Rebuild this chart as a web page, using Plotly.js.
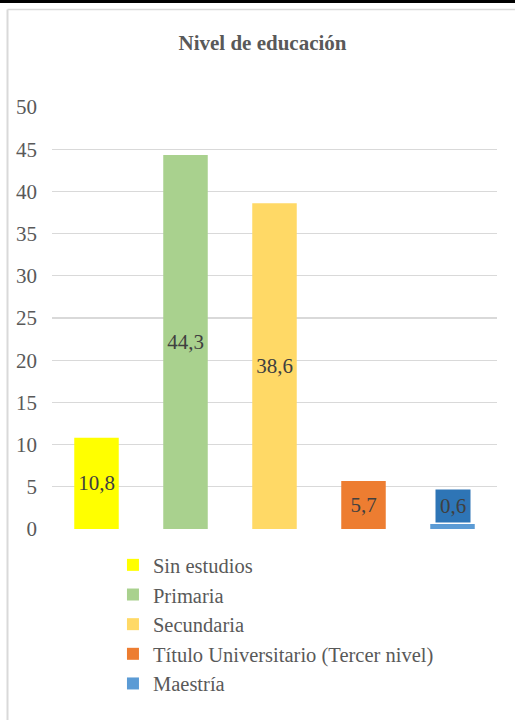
<!DOCTYPE html>
<html>
<head>
<meta charset="utf-8">
<script src="https://cdn.plot.ly/plotly-3.0.1.min.js"></script>
<style>html,body{margin:0;padding:0;background:#fff;}#chart{width:515px;height:720px;}</style>
</head>
<body>
<div id="chart"></div>
<script>
const categories = ["Sin estudios", "Primaria", "Secundaria", "Título Universitario (Tercer nivel)", "Maestría"];
const values = [10.8, 44.3, 38.6, 5.7, 0.6];
const colors = ["#ffff00", "#a9d18e", "#ffd966", "#ed7d31", "#5b9bd5"];
const yTicks = [0, 5, 10, 15, 20, 25, 30, 35, 40, 45, 50];

const serif = "'Liberation Serif', 'Times New Roman', serif";
const fmt = v => v.toFixed(1).replace(".", ",");

const traces = categories.map((c, i) => ({
  type: "bar",
  name: c,
  x: [c],
  y: [values[i]],
  marker: {color: colors[i]},
  text: i === 4 ? [""] : [fmt(values[i])],
  textposition: "inside",
  insidetextanchor: "middle",
  constraintext: "none",
  textfont: {family: serif, size: 21, color: "#404040"},
  legendgroup: "g" + i,
  hoverinfo: "skip"
}));

const layout = {
  width: 515,
  height: 720,
  margin: {l: 52, r: 18, t: 107, b: 191, autoexpand: false},
  paper_bgcolor: "#fff",
  plot_bgcolor: "#fff",
  separators: ",.",
  bargap: 0.5,
  showlegend: true,
  title: {text: "<b>Nivel de educación</b>", font: {family: serif, size: 21, color: "#595959"}, x: (262.5 - 52) / 445, xref: "paper", xanchor: "center", y: 1 - 43/720, yanchor: "middle"},
  xaxis: {showticklabels: false, showgrid: false, zeroline: false, showline: false, ticks: "", fixedrange: true},
  yaxis: {range: [0, 50], tickvals: yTicks, ticktext: yTicks.map(String), showgrid: true, gridcolor: "#d9d9d9", gridwidth: 1.3, zeroline: false, showline: false, ticks: "", ticklabelstandoff: 14, tickfont: {family: serif, size: 21, color: "#595959"}},
  legend: {orientation: "v", x: 0.137, xanchor: "left", y: -0.038, yanchor: "top", traceorder: "grouped", tracegroupgap: 0, font: {family: serif, size: 20.5, color: "#595959"}, itemwidth: 30, bgcolor: "rgba(0,0,0,0)"},
  annotations: [{
    x: categories[4], y: values[4], xref: "x", yref: "y", yanchor: "bottom", yshift: 1,
    text: fmt(values[4]), showarrow: false, bgcolor: "#2e75b6",
    font: {family: serif, size: 21, color: "#404040"}, borderpad: 4
  }],
  shapes: [
    {type: "line", xref: "paper", yref: "paper", x0: (0-52)/445, x1: (515-52)/445, y0: (529-1.5)/422, y1: (529-1.5)/422, line: {color: "#000", width: 3}},
    {type: "line", xref: "paper", yref: "paper", x0: (7.5-52)/445, x1: (515-52)/445, y0: (529-9.5)/422, y1: (529-9.5)/422, line: {color: "#d9d9d9", width: 1.5}},
    {type: "line", xref: "paper", yref: "paper", x0: (7.5-52)/445, x1: (7.5-52)/445, y0: (529-9.5)/422, y1: (529-720)/422, line: {color: "#d9d9d9", width: 2}}
  ]
};

Plotly.newPlot("chart", traces, layout, {displayModeBar: false, staticPlot: true});
</script>
</body>
</html>
